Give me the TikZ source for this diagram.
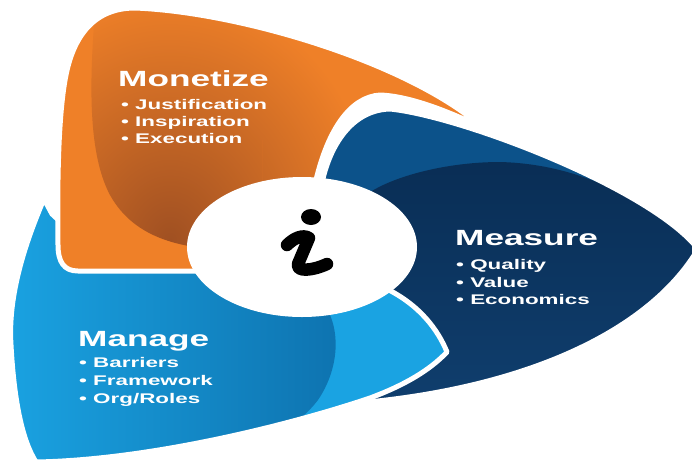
\documentclass[tikz,border=0pt]{standalone}
\usepackage{fontspec}
\setmainfont{Liberation Sans}
\newfontfamily\widesans[FakeStretch=1.6]{Liberation Sans}
\usetikzlibrary{shapes.geometric}

\definecolor{monorange}{RGB}{239,128,40}
\definecolor{mondeep}{RGB}{160,80,34}
\definecolor{measblue}{RGB}{12,82,138}
\definecolor{measnavy}{RGB}{8,42,80}
\definecolor{measnavylow}{RGB}{16,64,112}
\definecolor{manblue}{RGB}{26,163,226}
\definecolor{mandeep}{RGB}{10,100,160}

% petal outlines, x to the right and y downwards
\newcommand\monetizeoutline{(58,245) .. controls (57,170) and (59,110) .. (66,75)
  .. controls (74,35) and (95,8) .. (135,8) .. controls (240,12) and (410,63) .. (483,128)
  .. controls (450,112) and (410,96) .. (380,95) .. controls (350,97) and (328,130) .. (316,180)
  -- (300,250) -- (230,271) -- (78,271) .. controls (64,271) and (58,262) .. (58,245) -- cycle}
\newcommand\measureoutline{(318,215) .. controls (320,160) and (345,110) .. (390,109)
  .. controls (460,116) and (650,188) .. (698,249) .. controls (650,330) and (530,386) .. (368,402)
  -- (330,330) -- cycle}
\newcommand\manageoutline{(44,199) .. controls (22,250) and (8,300) .. (11,345)
  .. controls (14,400) and (22,440) .. (36,462) .. controls (150,460) and (290,425) .. (370,398)
  .. controls (405,385) and (430,370) .. (447,352) .. controls (438,330) and (420,305) .. (385,288)
  -- (250,280) -- (80,240) -- (52,214) -- cycle}

\tikzset{
  petal/.style={draw=white, line width=5pt, line join=round},
  monpetal/.style={petal, fill=monorange, path picture={
      \begin{scope}
        \clip (96,0) .. controls (90,70) and (86,150) .. (110,195)
          .. controls (135,240) and (185,250) .. (240,250) -- (420,250) -- (420,0) -- cycle;
        \shade[inner color=mondeep, outer color=monorange] (170,240) ellipse (210 and 250);
      \end{scope}}},
  headline/.style={font=\widesans\bfseries\fontsize{22}{24}\selectfont, text=white,
    inner sep=0pt, anchor=base west},
  bulletitem/.style={font=\widesans\bfseries\fontsize{14}{16}\selectfont, text=white,
    inner sep=0pt, anchor=base west},
}

\begin{document}
\begin{tikzpicture}[x=1pt, y=-1pt]
\useasboundingbox (0,0) rectangle (692,459);
\clip (0,0) rectangle (692,459);

% the three petals
\path[monpetal] \monetizeoutline;
\path[petal, fill=measblue, path picture={
    \shade[top color=measnavy, bottom color=measnavylow] (360,200)
      .. controls (380,180) and (440,162) .. (500,162) .. controls (580,164) and (650,200) .. (705,255)
      -- (705,430) -- (330,430) -- (330,200) -- cycle;}] \measureoutline;
\path[petal, fill=manblue, path picture={
    \shade[left color=manblue, right color=mandeep] (0,200) -- (300,200) -- (310,290)
      .. controls (340,310) and (345,360) .. (318,400) .. controls (295,430) and (260,445) .. (200,465)
      -- (0,465) -- cycle;}] \manageoutline;
% orange lies over the light blue again
\begin{scope}
  \clip (0,140) rectangle (262,300);
  \path[monpetal] \monetizeoutline;
\end{scope}

% centre with the info sign
\node[ellipse, fill=white, minimum width=230pt, minimum height=140pt, inner sep=0pt] (hub) at (302,247) {};
\fill (311,217) ellipse (10 and 8);
\draw[line width=12.5pt, line cap=round, line join=round] (287,245)
  .. controls (294,238) and (303,234) .. (309,238) -- (298,264)
  .. controls (296,272) and (312,271) .. (327,264);

% labels
\node[headline] (monetize) at (118,86) {Monetize};
\foreach \txt [count=\k] in {Justification, Inspiration, Execution}
  \node[bulletitem] (monetize-\k) at (121,93+16.8*\k) {\textbullet\ \txt};

\node[headline] (measure) at (455,245) {Measure};
\foreach \txt [count=\k] in {Quality, Value, Economics}
  \node[bulletitem] (measure-\k) at (456,252+17.5*\k) {\textbullet\ \txt};

\node[headline] (manage) at (78,346) {Manage};
\foreach \txt [count=\k] in {Barriers, Framework, Org/Roles}
  \node[bulletitem] (manage-\k) at (79,349+18*\k) {\textbullet\ \txt};
\end{tikzpicture}
\end{document}
